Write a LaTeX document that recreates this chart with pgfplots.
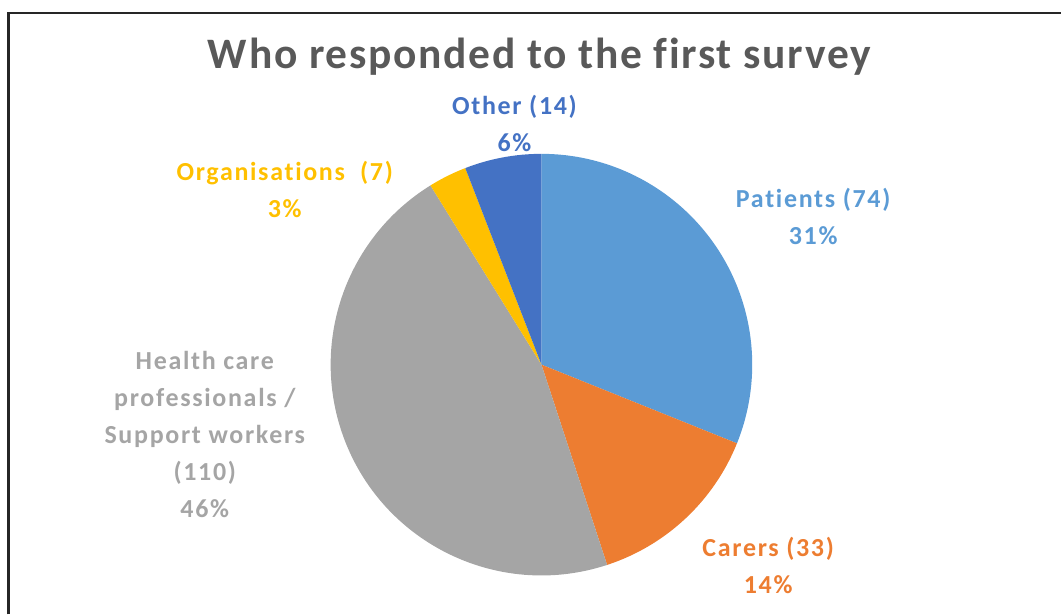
\documentclass[border=0pt]{standalone}
\usepackage{pgfplots}
\pgfplotsset{compat=1.18}
\usepackage{pgfplotstable}
\usepackage{fontspec}
\setmainfont{Carlito}
\newfontfamily\titlefont[LetterSpace=4,Ligatures=NoCommon]{Carlito}
\newfontfamily\labfont[LetterSpace=6.5,Ligatures=NoCommon]{Carlito}
\definecolor{cPat}{HTML}{5B9BD5}
\definecolor{cCar}{HTML}{ED7D31}
\definecolor{cHcp}{HTML}{A5A5A5}
\definecolor{cOrg}{HTML}{FFC000}
\definecolor{cOth}{HTML}{4472C4}
\definecolor{cTitle}{HTML}{595959}
\definecolor{cFrame}{HTML}{262626}
\pgfplotstableread[col sep=comma]{
value,color
74,cPat
33,cCar
110,cHcp
7,cOrg
14,cOth
}\pietable
\begin{document}
\begin{tikzpicture}
\begin{axis}[
  scale only axis, width=1062bp, height=615bp,
  xmin=0, xmax=1062, ymin=0, ymax=615, y dir=reverse,
  hide axis, clip=false]
\path (axis cs:0,0) rectangle (axis cs:1062,615);
\pgfplotstablegetrowsof{\pietable}
\pgfmathtruncatemacro{\lastrow}{\pgfplotsretval-1}
\def\pietotal{0}
\pgfplotsforeachungrouped \i in {0,...,\lastrow}{%
  \pgfplotstablegetelem{\i}{value}\of\pietable
  \pgfmathsetmacro{\pietotal}{\pietotal+\pgfplotsretval}%
}
\def\piecum{0}
\pgfplotsforeachungrouped \i in {0,...,\lastrow}{%
  \pgfplotstablegetelem{\i}{value}\of\pietable
  \let\pieval\pgfplotsretval
  \pgfplotstablegetelem{\i}{color}\of\pietable
  \let\piecol\pgfplotsretval
  \pgfmathsetmacro{\sa}{90-360*(\piecum/\pietotal)}%
  \pgfmathsetmacro{\ea}{90-360*((\piecum+\pieval)/\pietotal)}%
  \pgfmathsetmacro{\piecum}{\piecum+\pieval}%
  \edef\piecmd{\noexpand\fill[\piecol] (axis cs:542,365) -- ++(\sa:211bp) arc[start angle=\sa, end angle=\ea, radius=211bp] -- cycle;}%
  \piecmd
}
\draw[line width=2.2bp, cFrame] (axis cs:8.5,615) -- (axis cs:8.5,13) -- (axis cs:1062,13);
\node[anchor=base, text=cTitle, font=\titlefont\fontsize{43.5bp}{50bp}\selectfont\bfseries] at (axis cs:540,69) {Who responded to the first survey};
\tikzset{lab/.style={align=center, font=\labfont\fontsize{26bp}{37bp}\selectfont\bfseries, inner sep=0pt}}
\node[lab, text=cPat] at (axis cs:814,217) {Patients (74)\\31\%};
\node[lab, text=cCar] at (axis cs:769,566) {Carers (33)\\14\%};
\node[lab, text=cHcp] at (axis cs:205,435) {Health care\\professionals /\\Support workers\\(110)\\46\%};
\node[lab, text=cOrg] at (axis cs:285,190) {Organisations\ \ (7)\\3\%};
\node[lab, text=cOth] at (axis cs:515,124) {Other (14)\\6\%};
\end{axis}
\end{tikzpicture}
\end{document}
